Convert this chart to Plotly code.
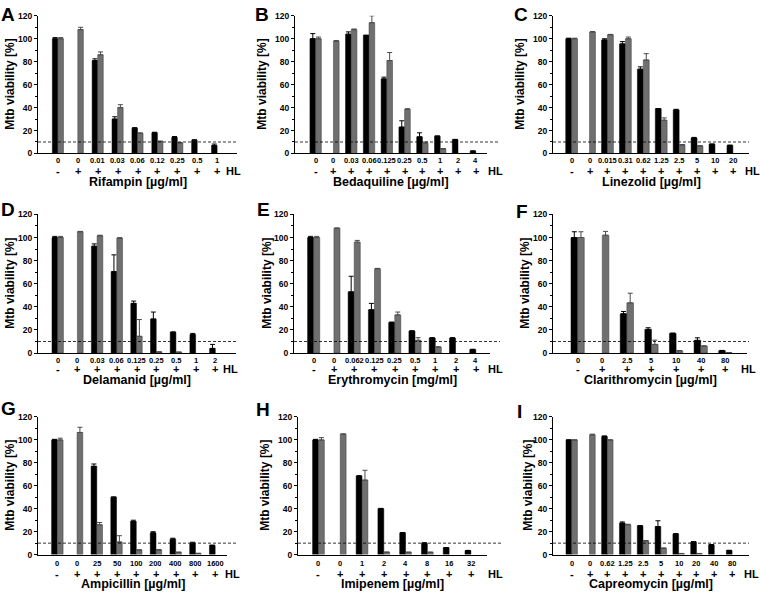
import plotly.graph_objects as go

W, H = 760, 596
FONT = "Arial, Liberation Sans, sans-serif"

# ---------------- data ----------------
# A Rifampin
a_conc = ["0", "0", "0.01", "0.03", "0.06", "0.12", "0.25", "0.5", "1"]
a_hl = ["-", "+", "+", "+", "+", "+", "+", "+", "+"]
a_black = [100, None, 81, 30, 22, 18, 14, 11.5, 7]
a_black_err = [1, 0, 1.5, 2, 0.5, 0.5, 0.8, 0.5, 1.2]
a_gray = [100, 108, 86, 40, 17.5, 10.5, 9, None, None]
a_gray_err = [1, 2, 2.5, 2.5, 0.5, 0.3, 0.5, 0, 0]

# B Bedaquiline
b_conc = ["0", "0", "0.03", "0.06", "0.125", "0.25", "0.5", "1", "2", "4"]
b_hl = ["-", "+", "+", "+", "+", "+", "+", "+", "+", "+"]
b_black = [100, None, 104, 103, 65, 23, 14.5, 15, 12, 2]
b_black_err = [4.5, 0, 2, 0, 1.5, 5.5, 3.5, 0.3, 0.3, 0.3]
b_gray = [100, 98, 108, 114, 81, 38.5, 9, 4, None, None]
b_gray_err = [1.5, 0.5, 0.5, 6, 7, 0.5, 1, 0.3, 0, 0]

# C Linezolid
c_conc = ["0", "0", "0.015", "0.31", "0.62", "1.25", "2.5", "5", "10", "20"]
c_hl = ["-", "+", "+", "+", "+", "+", "+", "+", "+", "+"]
c_black = [100, None, 99, 95.5, 73.5, 39, 38, 13.5, 8, 7]
c_black_err = [0.5, 0, 1, 2, 2, 0, 0.5, 0.5, 0.3, 0.3]
c_gray = [100, 106, 103.5, 100, 81.5, 29, 7.5, 6.5, None, None]
c_gray_err = [0.5, 0.3, 0.3, 1.5, 5.5, 2, 0.3, 0.3, 0, 0]

# D Delamanid
d_conc = ["0", "0", "0.03", "0.06", "0.125", "0.25", "0.5", "1", "2"]
d_hl = ["-", "+", "+", "+", "+", "+", "+", "+", "+"]
d_black = [100, None, 92.5, 70.5, 43, 29.5, 18, 16, 4]
d_black_err = [1, 0, 2, 14.5, 2, 6, 0.3, 1, 3.5]
d_gray = [100, 105, 101.5, 99.5, 14.5, 1, 0.8, None, None]
d_gray_err = [1, 0.3, 0.5, 0.3, 14.5, 0, 0, 0, 0]

# E Erythromycin
e_conc = ["0", "0", "0.062", "0.125", "0.25", "0.5", "1", "2", "4"]
e_hl = ["-", "+", "+", "+", "+", "+", "+", "+", "+"]
e_black = [100, None, 53, 37.5, 26.5, 19, 13, 13, 3]
e_black_err = [1, 0, 13.5, 5.5, 0.3, 0.3, 0.3, 0.3, 0.3]
e_gray = [100, 108, 96, 73, 33, 11, 5, None, None]
e_gray_err = [1, 0.3, 1.5, 0.3, 2.5, 2.3, 0.5, 0, 0]

# F Clarithromycin
f_conc = ["0", "0", "2.5", "5", "10", "40", "80"]
f_hl = ["-", "+", "+", "+", "+", "+", "+"]
f_black = [100, None, 34, 20.5, 17, 11, 2]
f_black_err = [5, 0, 2, 1.4, 0.3, 2.2, 0.3]
f_gray = [100, 102, 43.5, 7.5, 2, 6, 0.5]
f_gray_err = [5, 3.3, 8.3, 3.7, 0.2, 0.3, 0]

# G Ampicillin
g_conc = ["0", "0", "25", "50", "100", "200", "400", "800", "1600"]
g_hl = ["-", "+", "+", "+", "+", "+", "+", "+", "+"]
g_black = [100, None, 77, 50, 29, 19, 13.5, 10, 8]
g_black_err = [0.5, 0, 2, 0.3, 1, 1, 0.8, 0.8, 0.3]
g_gray = [100, 106.5, 26, 11, 4, 4, 2, 1, None]
g_gray_err = [1.5, 4.5, 2, 5.5, 0.2, 0.5, 0.2, 0.2, 0]

# H Imipenem
h_conc = ["0", "0", "1", "2", "4", "8", "16", "32"]
h_hl = ["-", "+", "+", "+", "+", "+", "+", "+"]
h_black = [100, None, 68.5, 40, 19, 10, 6, 3.5]
h_black_err = [0.5, 0, 0.3, 0.3, 0.2, 0.3, 0.2, 0.2]
h_gray = [100, 105, 65, 2, 2, 2, None, None]
h_gray_err = [2, 0.3, 8.5, 0.3, 0.2, 0.2, 0, 0]

# I Capreomycin
i_conc = ["0", "0", "0.62", "1.25", "2.5", "5", "10", "20", "40", "80"]
i_hl = ["-", "+", "+", "+", "+", "+", "+", "+", "+", "+"]
i_black = [100, None, 103, 27.5, 25, 24.5, 18, 11, 8.5, 3.5]
i_black_err = [0, 0, 0.5, 1, 0.3, 5, 0.3, 0.3, 0.3, 0.3]
i_gray = [100, 104.5, 100, 26, 12, 5.5, 1, 1, None, None]
i_gray_err = [0, 0.5, 0, 0.5, 0.3, 0.3, 0, 0, 0, 0]

threshold = 10
y_ticks = [0, 20, 40, 60, 80, 100, 120]

panels = [
    dict(letter="A", title="Rifampin [µg/ml]", conc=a_conc, hl=a_hl,
         black=a_black, berr=a_black_err, gray=a_gray, gerr=a_gray_err),
    dict(letter="B", title="Bedaquiline [µg/ml]", conc=b_conc, hl=b_hl,
         black=b_black, berr=b_black_err, gray=b_gray, gerr=b_gray_err),
    dict(letter="C", title="Linezolid [µg/ml]", conc=c_conc, hl=c_hl,
         black=c_black, berr=c_black_err, gray=c_gray, gerr=c_gray_err),
    dict(letter="D", title="Delamanid [µg/ml]", conc=d_conc, hl=d_hl,
         black=d_black, berr=d_black_err, gray=d_gray, gerr=d_gray_err),
    dict(letter="E", title="Erythromycin [mg/ml]", conc=e_conc, hl=e_hl,
         black=e_black, berr=e_black_err, gray=e_gray, gerr=e_gray_err),
    dict(letter="F", title="Clarithromycin [µg/ml]", conc=f_conc, hl=f_hl,
         black=f_black, berr=f_black_err, gray=f_gray, gerr=f_gray_err),
    dict(letter="G", title="Ampicillin [µg/ml]", conc=g_conc, hl=g_hl,
         black=g_black, berr=g_black_err, gray=g_gray, gerr=g_gray_err),
    dict(letter="H", title="Imipenem [µg/ml]", conc=h_conc, hl=h_hl,
         black=h_black, berr=h_black_err, gray=h_gray, gerr=h_gray_err),
    dict(letter="I", title="Capreomycin [µg/ml]", conc=i_conc, hl=i_hl,
         black=i_black, berr=i_black_err, gray=i_gray, gerr=i_gray_err),
]

# ---------------- layout (pixel geometry) ----------------
# x0 (y-axis), x1 (x-axis end), top (y=120), bottom (y=0), x-range lo, hi offset
geom = [
    (38, 237, 11, 151, -1.0, 1.0),
    (295, 487, 11, 151, -1.16, 0.63),
    (553, 749, 11, 151, -1.04, 0.9),
    (38, 236, 213, 354, -1.0, 1.05),
    (294, 490, 213, 354, -0.97, 0.7),
    (553, 747, 213, 354, -1.0, 0.88),
    (38, 227, 419, 559, -0.98, 0.6),
    (298, 487, 419, 559, -0.94, 0.74),
    (553, 749, 419, 559, -1.05, 0.95),
]
bar_w = [0.28, 0.32, 0.33, 0.29, 0.3, 0.27, 0.29, 0.27, 0.32]
dash_end = [236, 500, 749, 237, 500, 749, 237, 503, 749]
hl_px = [233, 495, 752, 230, 495, 748, 232, 495, 751]
ytitle_off = [28, 33, 33, 28, 27, 28, 28, 33, 25]
row_offsets = [(7.5, 18, 29), (7, 16, 27), (9, 19, 29)]
letter_pos = [(8, 10), (262, 10), (521, 10), (8, 208), (263, 208),
              (522, 210), (8, 410), (263, 411), (519, 413)]

BLACK = "#000000"
GRAY = "#6f6f6f"

fig = go.Figure()
layout = dict(
    width=W, height=H, margin=dict(l=0, r=0, t=0, b=0),
    paper_bgcolor="white", plot_bgcolor="white",
    barmode="overlay", showlegend=False,
    font=dict(family=FONT, color="black"),
)
annotations = []
shapes = []

for k, p in enumerate(panels):
    idx = k + 1
    sfx = "" if idx == 1 else str(idx)
    xa, ya = "x" + sfx, "y" + sfx
    x0, x1, top, bot, lo, hi = geom[k]
    n = len(p["conc"])
    xs = list(range(n))
    w = bar_w[k]

    fig.add_trace(go.Bar(
        x=xs, y=p["black"], width=w, offset=-w, xaxis=xa, yaxis=ya,
        marker=dict(color=BLACK, line=dict(color=BLACK, width=0.5)),
        error_y=dict(type="data", symmetric=False, array=p["berr"],
                     arrayminus=[0] * n, color=BLACK, thickness=1, width=2.5),
        hoverinfo="skip",
    ))
    fig.add_trace(go.Bar(
        x=xs, y=p["gray"], width=w, offset=0, xaxis=xa, yaxis=ya,
        marker=dict(color=GRAY, line=dict(color="#3a3a3a", width=0.5)),
        error_y=dict(type="data", symmetric=False, array=p["gerr"],
                     arrayminus=[0] * n, color="#4a4a4a", thickness=1, width=2.5),
        hoverinfo="skip",
    ))

    layout["xaxis" + sfx] = dict(
        domain=[x0 / W, x1 / W], range=[lo, n - 1 + hi], anchor=ya,
        showline=True, linecolor="black", linewidth=1.2,
        showticklabels=False, ticks="", showgrid=False, zeroline=False,
        fixedrange=True,
    )
    layout["yaxis" + sfx] = dict(
        domain=[1 - bot / H, 1 - top / H], range=[0, 120], anchor=xa,
        tickvals=y_ticks, ticks="outside", ticklen=3, tickwidth=1,
        tickcolor="black",
        minor=dict(ticks="outside", ticklen=2, dtick=10, tickcolor="black",
                   showgrid=False),
        showline=True, linecolor="black", linewidth=1.2,
        showgrid=False, zeroline=False,
        tickfont=dict(size=8.5, family=FONT, weight="bold"),
        fixedrange=True,
    )

    c_off, s_off, t_off = row_offsets[k // 3]
    for i in xs:
        annotations.append(dict(
            text=p["conc"][i], xref=xa, yref=ya, x=i, y=0, yshift=-c_off,
            showarrow=False, xanchor="center", yanchor="middle",
            font=dict(size=7.5, family=FONT, weight="bold", color="black")))
        annotations.append(dict(
            text=p["hl"][i], xref=xa, yref=ya, x=i, y=0, yshift=-s_off,
            showarrow=False, xanchor="center", yanchor="middle",
            font=dict(size=11, family=FONT, weight="bold", color="black")))
    annotations.append(dict(
        text="HL", xref=xa + " domain", yref=ya, x=(hl_px[k] - x0) / (x1 - x0),
        y=0, yshift=-s_off, showarrow=False, xanchor="center", yanchor="middle",
        font=dict(size=11, family=FONT, weight="bold", color="black")))
    annotations.append(dict(
        text=p["title"], xref=xa + " domain", yref=ya, x=0.5, y=0,
        yshift=-t_off, showarrow=False, xanchor="center", yanchor="middle",
        font=dict(size=12.5, family=FONT, weight="bold", color="black")))
    annotations.append(dict(
        text="Mtb viability [%]", xref=xa + " domain", yref=ya + " domain",
        x=0, y=0.5, xshift=-ytitle_off[k], textangle=-90, showarrow=False,
        xanchor="center", yanchor="middle",
        font=dict(size=12, family=FONT, weight="bold", color="black")))
    lx, ly = letter_pos[k]
    annotations.append(dict(
        text=p["letter"], xref="paper", yref="paper", x=lx / W, y=1 - ly / H,
        showarrow=False, xanchor="center", yanchor="middle",
        font=dict(size=19, family=FONT, weight="bold", color="black")))

    shapes.append(dict(
        type="line", xref=xa + " domain", yref=ya, x0=0,
        x1=(dash_end[k] - x0) / (x1 - x0), y0=threshold, y1=threshold,
        line=dict(color="black", width=0.8, dash="3px,2px")))

layout["annotations"] = annotations
layout["shapes"] = shapes
fig.update_layout(**layout)
fig.write_html(
    "out.html",
    config={"displayModeBar": False, "staticPlot": False},
    post_script="document.body.style.margin='0';document.body.style.overflow='hidden';",
)
